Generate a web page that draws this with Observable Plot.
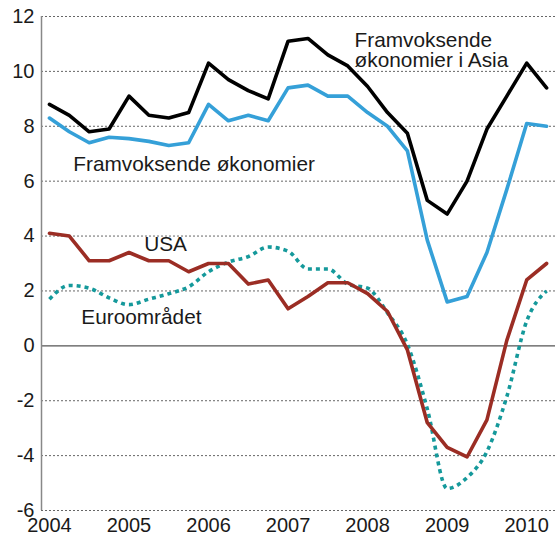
<!DOCTYPE html>
<html>
<head>
<meta charset="utf-8">
<script src="https://cdn.jsdelivr.net/npm/d3@7"></script>
<script src="https://cdn.jsdelivr.net/npm/@observablehq/plot@0.6"></script>
<style>
  html, body { margin: 0; padding: 0; background: #fff; }
  #chart { width: 555px; height: 537px; }
</style>
</head>
<body>
<div id="chart"></div>
<script>
const quarters = ["2004Q1","2004Q2","2004Q3","2004Q4","2005Q1","2005Q2","2005Q3","2005Q4",
  "2006Q1","2006Q2","2006Q3","2006Q4","2007Q1","2007Q2","2007Q3","2007Q4",
  "2008Q1","2008Q2","2008Q3","2008Q4","2009Q1","2009Q2","2009Q3","2009Q4",
  "2010Q1","2010Q2"];
const asia = [8.8, 8.4, 7.8, 7.9, 9.1, 8.4, 8.3, 8.5, 10.3, 9.7, 9.3, 9.0, 11.1, 11.2, 10.6, 10.2, 9.45, 8.5, 7.75, 5.3, 4.8, 6.0, 7.9, 9.1, 10.3, 9.4];
const emerging = [8.3, 7.8, 7.4, 7.6, 7.55, 7.45, 7.3, 7.4, 8.8, 8.2, 8.4, 8.2, 9.4, 9.5, 9.1, 9.1, 8.5, 8.0, 7.1, 3.85, 1.6, 1.8, 3.4, 5.7, 8.1, 8.0];
const usa = [4.1, 4.0, 3.1, 3.1, 3.4, 3.1, 3.1, 2.7, 3.0, 3.0, 2.25, 2.4, 1.35, 1.8, 2.3, 2.3, 1.9, 1.25, -0.15, -2.8, -3.7, -4.05, -2.7, 0.2, 2.4, 3.0];
const euro = [1.7, 2.2, 2.1, 1.75, 1.5, 1.7, 1.9, 2.15, 2.7, 3.05, 3.25, 3.6, 3.45, 2.8, 2.8, 2.25, 2.1, 1.2, 0.05, -2.3, -5.2, -4.8, -3.85, -1.85, 0.9, 2.0];
const yTicks = [-6, -4, -2, 0, 2, 4, 6, 8, 10, 12];
const xTicks = [2004, 2005, 2006, 2007, 2008, 2009, 2010];
const seriesNames = ["Framvoksende økonomier i Asia", "Framvoksende økonomier", "USA", "Euroområdet"];

const toYear = q => +q.slice(0, 4) + (+q.slice(5) - 1) / 4;
const rows = (vals) => quarters.map((q, i) => ({x: toYear(q), y: vals[i]}));

const xDomain = [2003.9, 2010.362];
const font = "'Liberation Sans', Arial, sans-serif";

const chart = Plot.plot({
  width: 555,
  height: 537,
  marginLeft: 41,
  marginRight: 0,
  marginTop: 16,
  marginBottom: 27,
  style: {fontFamily: font, fontSize: "20px", color: "#1a1a1a", background: "#fff"},
  x: {domain: xDomain, axis: null, label: null},
  y: {domain: [-6, 12], axis: null, label: null},
  marks: [
    Plot.ruleY(yTicks.filter(d => d !== 0), {stroke: "#666", strokeWidth: 1, strokeDasharray: "2,2"}),
    Plot.ruleY([0], {stroke: "#555", strokeWidth: 1.3}),
    Plot.ruleX([xDomain[0]], {stroke: "#888", strokeWidth: 1.5}),
    Plot.axisY({ticks: yTicks, tickSize: 0, tickPadding: 7, fontSize: 20, fontFamily: font, label: null, tickFormat: d => String(d)}),
    Plot.axisX({ticks: xTicks, tickSize: 0, tickPadding: 7, fontSize: 20, fontFamily: font, label: null, tickFormat: d => String(d)}),
    Plot.line(rows(euro), {x: "x", y: "y", stroke: "#15999b", strokeWidth: 3.6, strokeDasharray: "4,4", strokeLinecap: "butt", curve: "monotone-x"}),
    Plot.line(rows(usa), {x: "x", y: "y", stroke: "#9b2d24", strokeWidth: 3.6}),
    Plot.line(rows(emerging), {x: "x", y: "y", stroke: "#35a0d8", strokeWidth: 3.6}),
    Plot.line(rows(asia), {x: "x", y: "y", stroke: "#000", strokeWidth: 3.6}),
    Plot.text([seriesNames[0]], {x: 2007.836, y: 11.44, text: () => "Framvoksende\nøkonomier i Asia", textAnchor: "start", lineAnchor: "top", lineHeight: 1.0, fontSize: 20.8, fill: "#1a1a1a"}),
    Plot.text([seriesNames[1]], {x: 2004.30, y: 6.63, text: d => d, textAnchor: "start", fontSize: 20.8, fill: "#1a1a1a"}),
    Plot.text([seriesNames[2]], {x: 2005.459, y: 3.68, text: d => d, textAnchor: "middle", fontSize: 20.8, fill: "#1a1a1a"}),
    Plot.text([seriesNames[3]], {x: 2004.40, y: 1.04, text: d => d, textAnchor: "start", fontSize: 20.8, fill: "#1a1a1a"})
  ]
});
document.getElementById("chart").append(chart);
</script>
</body>
</html>
